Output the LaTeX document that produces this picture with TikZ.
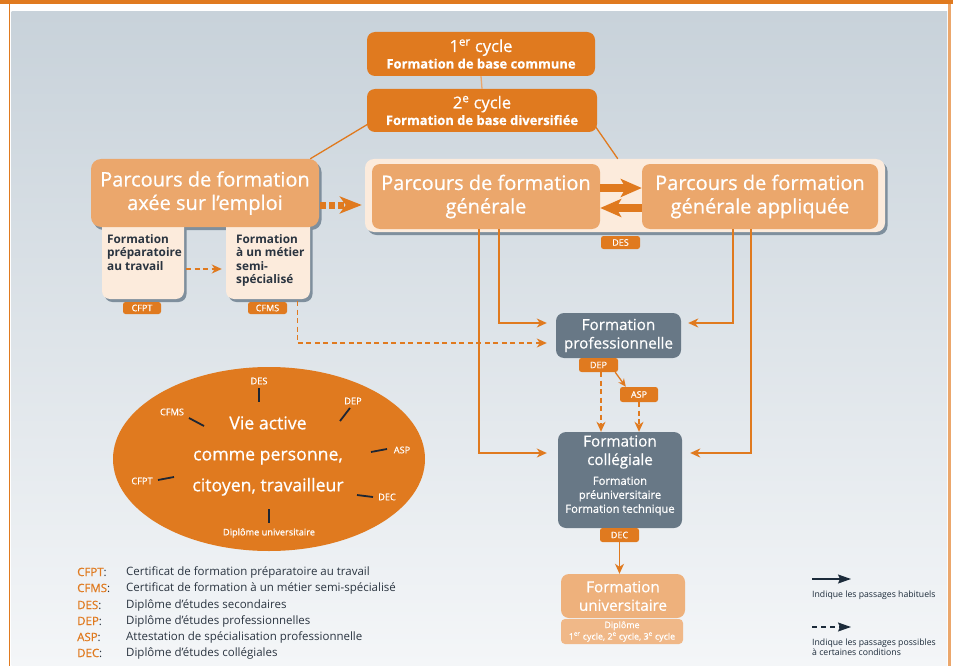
\documentclass[tikz,border=0pt]{standalone}
\usepackage{fontspec}
\setmainfont{Open Sans}
\usetikzlibrary{arrows.meta,calc,shapes.geometric,shadows}
\definecolor{cOr}{HTML}{E07A1F}
\definecolor{cLO}{HTML}{EBA76C}
\definecolor{cCream}{HTML}{FCEBDC}
\definecolor{cSlate}{HTML}{687886}
\definecolor{cUni}{HTML}{EEB17C}
\definecolor{cUniB}{HTML}{F0B888}
\definecolor{cDark}{HTML}{2A3440}
\definecolor{cTick}{HTML}{1E2633}
\definecolor{cShd}{HTML}{7F8F9D}
\definecolor{cBgT}{HTML}{C8D2DA}
\definecolor{cBgB}{HTML}{F4F6F8}
\definecolor{cLeg}{HTML}{1C2B3A}
\newcommand\semib{\addfontfeature{FakeBold=0.6}}
\begin{document}
\begin{tikzpicture}[x=1pt,y=-1pt,
  box/.style={rectangle,rounded corners=8pt,inner sep=0pt,align=center,text=white},
  shd/.style={drop shadow={shadow xshift=2.5pt,shadow yshift=-3pt,fill=cShd,opacity=1}},
  tag/.style={rectangle,rounded corners=2.5pt,fill=cOr,text=white,inner sep=0pt,font=\fontsize{9}{10}\selectfont\semib},
  big/.style={font=\fontsize{20}{23.5}\selectfont\semib},
  mid/.style={font=\fontsize{15.2}{18.5}\selectfont\semib},
  cyc/.style={font=\fontsize{16.5}{16.5}\selectfont\semib},
  subtxt/.style={anchor=north west,align=left,text=cDark,inner sep=0pt,font=\fontsize{11.8}{13.5}\selectfont\bfseries},
  arr/.style={draw=cOr,line width=1.4pt,-{Stealth[length=10pt,width=9pt,inset=3pt]}},
  darr/.style={arr,dash pattern=on 5pt off 3.5pt},
  thick arr/.style={draw=cOr,line width=8pt,-{Stealth[length=21pt,width=18pt,inset=5pt]}},
  tick/.style={draw=cTick,line width=1.8pt},
  rlab/.style={text=white,inner sep=0pt,font=\fontsize{9.2}{10}\selectfont\semib},
  legab/.style={anchor=west,inner sep=0pt,font=\fontsize{11.5}{13}\selectfont},
  legarr/.style={draw=cLeg,line width=1.4pt,-{Stealth[length=13pt,width=9pt,inset=2pt]}},
  legtxt/.style={anchor=north west,align=left,inner sep=0pt,text=cLeg,font=\fontsize{8.7}{8.7}\selectfont}
]
\useasboundingbox (0,0) rectangle (953,666);
% frame and background
\fill[white] (0,0) rectangle (953,666);
\shade[top color=cBgT,bottom color=cBgB] (11.5,12) rectangle (947,666);
\fill[cOr] (0,0) rectangle (953,4.5);
\fill[cOr] (8.5,4) rectangle (10.2,666);
\fill[cLO] (948,4) rectangle (951,666);

% cycle boxes
\node[box,fill=cOr,cyc,minimum width=228pt,minimum height=44pt] (c1) at (481,54)
  {1\textsuperscript{er} cycle\\\fontsize{13}{16}\selectfont\bfseries Formation de base commune};
\node[box,fill=cOr,cyc,minimum width=230pt,minimum height=43pt] (c2) at (482,110.5)
  {2\textsuperscript{e} cycle\\\fontsize{13}{16}\selectfont\bfseries Formation de base diversifiée};
\draw[cLO,line width=1.3pt] (c1.south) -- (c2.north);

% general panel
\node[rectangle,rounded corners=9pt,fill=cCream,shd,minimum width=520pt,minimum height=73pt,inner sep=0pt] (panel) at (625,195.5) {};
\node[box,fill=cLO,big,minimum width=228pt,minimum height=65pt] (gen) at (486,196.5) {Parcours de formation\\générale};
\node[box,fill=cLO,big,minimum width=236pt,minimum height=65pt] (app) at (760,196.5) {Parcours de formation\\générale appliquée};
\draw[thick arr] ($(gen.east)+(0,-8.5)$) -- ($(app.west)+(0,-8.5)$);
\draw[thick arr] ($(app.west)+(0,11.5)$) -- ($(gen.east)+(0,11.5)$);
\node[tag,minimum width=39pt,minimum height=13pt] (des) at (620.5,242.5) {DES};

% axee sur l'emploi
\fill[cShd,rounded corners=10pt] (93.5,162) rectangle (321.5,230);
\node[rectangle,rounded corners=8pt,fill=cCream,shd,minimum width=82pt,minimum height=87pt,inner sep=0pt] (prep) at (143,255.5) {};
\node[rectangle,rounded corners=8pt,fill=cCream,shd,minimum width=84pt,minimum height=87pt,inner sep=0pt] (semi) at (268,255.5) {};
\node[box,fill=cLO,big,rounded corners=10pt,minimum width=228pt,minimum height=68pt] (axee) at (205,193) {Parcours de formation\\axée sur l’emploi};
\node[subtxt] (prept) at (107,234) {Formation\\préparatoire\\au travail};
\node[subtxt] (semit) at (236,234) {Formation\\à un métier\\semi-\\spécialisé};
\node[tag,minimum width=38pt,minimum height=12pt] (cfpt) at (142,308) {CFPT};
\node[tag,minimum width=39pt,minimum height=12pt] (cfms) at (267.5,308) {CFMS};
\draw[darr] ($(prep.east)+(2,13.5)$) -- ($(semi.west)+(-4,13.5)$);
\draw[cOr,line width=7pt,dash pattern=on 6pt off 3pt,-{Stealth[length=22pt,width=17pt,inset=6pt]}] ($(axee.east)+(1,12)$) -- ($(panel.west)+(-3,9.5)$);

% lines from 2e cycle
\draw[cOr,line width=1.3pt] ($(c2.south west)+(1,-8)$) -- ($(axee.north east)+(-9,0)$);
\draw[cOr,line width=1.3pt] ($(c2.south east)+(-2,-6)$) -- ($(panel.north west)+(253,0)$);

% professional & college
\node[box,fill=cSlate,mid,minimum width=125pt,minimum height=45pt] (pro) at (618.5,335.5) {Formation\\professionnelle};
\node[box,fill=cSlate,minimum width=124pt,minimum height=96pt] (col) at (620,480) {};
\node[align=center,text=white,inner sep=0pt,font=\fontsize{15.2}{18.5}\selectfont\semib] (colA) at (620,452) {Formation\\collégiale};
\node[align=center,text=white,inner sep=0pt,font=\fontsize{11.2}{14}\selectfont\semib] (colB) at (620,496) {Formation\\préuniversitaire\\Formation technique};
\node[tag,minimum width=39pt,minimum height=14pt] (dep) at (598.5,365) {DEP};
\node[tag,minimum width=38pt,minimum height=15pt] (asp) at (639,394.5) {ASP};
\node[tag,minimum width=39pt,minimum height=14pt] (dec) at (619.5,535) {DEC};
\node[box,fill=cUni,mid,minimum width=124pt,minimum height=44pt] (univ) at (623,596) {Formation\\universitaire};
\node[box,fill=cUniB,rounded corners=4pt,minimum width=122pt,minimum height=25pt,font=\fontsize{8.9}{11.5}\selectfont\semib] (univd) at (622,631.5)
  {Diplôme\\1\textsuperscript{er} cycle, 2\textsuperscript{e} cycle, 3\textsuperscript{e} cycle};

\draw[arr] ($(gen.south)+(13,0)$) |- ($(pro.west)+(-9,-12.5)$);
\draw[arr] ($(gen.south)+(-7,0)$) |- ($(col.west)+(-11,-27)$);
\draw[arr] ($(app.south)+(-27,0)$) |- ($(pro.east)+(7,-12.5)$);
\draw[arr] ($(app.south)+(-9,0)$) |- ($(col.east)+(8,-27)$);
\coordinate (cfout) at ($(semi.south east)+(-13,2)$);
\draw[darr] (cfout) |- ($(pro.west)+(-9,7.5)$);
\draw[draw=cOr,line width=1.3pt,-{Stealth[length=8pt,width=7pt,inset=2.5pt]}] ($(dep.south east)+(-3,0)$) -- ($(asp.north west)+(6,0)$);
\draw[darr] ($(dep.south)+(2.5,0)$) -- ($(col.north)+(-19,0)$);
\draw[darr] (asp.south) -- ($(col.north)+(19,0)$);
\draw[arr] (dec.south) -- (dec.south |- univ.north);

% vie active
\node[ellipse,fill=cOr,minimum width=312pt,minimum height=184pt,inner sep=0pt] (va) at (269,459) {};
\node[align=center,text=white,inner sep=0pt,font=\fontsize{17.7}{31}\selectfont\semib] (vat) at (268,456) {Vie active\\comme personne,\\citoyen, travailleur};
\node[rlab] (lDES) at (259,381) {DES};
\node[rlab] (lDEP) at (353,401) {DEP};
\node[rlab] (lASP) at (402,450) {ASP};
\node[rlab] (lDEC) at (387,497) {DEC};
\node[rlab] (lDU) at (269,533) {Diplôme universitaire};
\node[rlab] (lCFPT) at (142,481) {CFPT};
\node[rlab] (lCFMS) at (172,412) {CFMS};
\draw[tick] (259,388) -- (259,402);
\draw[tick] (350,408) -- (340,421);
\draw[tick] (387,449) -- (371,452);
\draw[tick] (357,495) -- (373,497);
\draw[tick] (269,509) -- (269,523);
\draw[tick] (158,480) -- (174,477);
\draw[tick] (189,418) -- (204,426);

% legend left
\node[legab] (a1) at (77,572) {\textcolor{cOr}{\semib CFPT}\textcolor{cDark}{:}};
\node[legab] (a2) at (77,588) {\textcolor{cOr}{\semib CFMS}\textcolor{cDark}{:}};
\node[legab] (a3) at (77,605) {\textcolor{cOr}{\semib DES}\textcolor{cDark}{:}};
\node[legab] (a4) at (77,621) {\textcolor{cOr}{\semib DEP}\textcolor{cDark}{:}};
\node[legab] (a5) at (77,637) {\textcolor{cOr}{\semib ASP}\textcolor{cDark}{:}};
\node[legab] (a6) at (77,653) {\textcolor{cOr}{\semib DEC}\textcolor{cDark}{:}};
\node[legab,text=cDark] (d1) at (126,572) {Certificat de formation préparatoire au travail};
\node[legab,text=cDark] (d2) at (126,588) {Certificat de formation à un métier semi-spécialisé};
\node[legab,text=cDark] (d3) at (126,605) {Diplôme d’études secondaires};
\node[legab,text=cDark] (d4) at (126,621) {Diplôme d’études professionnelles};
\node[legab,text=cDark] (d5) at (126,637) {Attestation de spécialisation professionnelle};
\node[legab,text=cDark] (d6) at (126,653) {Diplôme d’études collégiales};

% legend right
\coordinate (s1) at (812,579);
\coordinate (s2) at (851,579);
\draw[legarr] (s1) -- (s2);
\node[legtxt] (t1) at (812,591) {Indique les passages habituels};
\coordinate (s3) at (812,627);
\coordinate (s4) at (851,627);
\draw[legarr,dash pattern=on 5pt off 4pt] (s3) -- (s4);
\node[legtxt] (t2) at (812,639) {Indique les passages possibles\\à certaines conditions};
\end{tikzpicture}
\end{document}
